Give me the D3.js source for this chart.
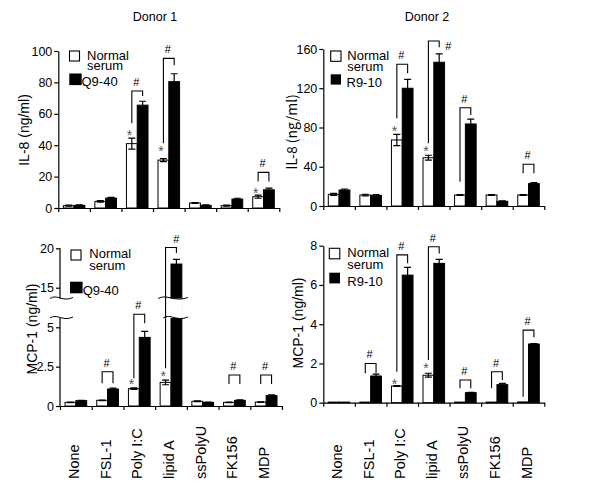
<!DOCTYPE html>
<html><head><meta charset="utf-8">
<script src="https://cdn.jsdelivr.net/npm/d3@7"></script>
<style>
body{margin:0;background:#fff}
svg{display:block}
text{font-family:"Liberation Sans",Arial,Helvetica,sans-serif;fill:#000}
</style>
</head><body>
<svg id="c" width="600" height="493"></svg>
<script>
// ---------------- DATA ----------------
const categories = ["None","FSL-1","Poly I:C","lipid A","ssPolyU","FK156","MDP"];

// IL-8 Donor 1
const il8D1Normal    = [1.5, 4.2, 41, 30.5, 3.2, 1.5, 7.2];
const il8D1NormalErr = [0.3, 0.5, 3.5, 1, 0.3, 0.3, 1];
const il8D1Q940      = [1.7, 6.3, 65.5, 80.5, 1.7, 5.7, 11.6];
const il8D1Q940Err   = [0.3, 0.5, 2.5, 5, 0.3, 0.5, 1];

// IL-8 Donor 2
const il8D2Normal    = [11.9, 11.2, 67.3, 49.2, 11.2, 11.2, 11.2];
const il8D2NormalErr = [1, 0.8, 5.7, 2.5, 0.5, 0.5, 0.5];
const il8D2R910      = [16.3, 10.8, 120, 146.5, 83.6, 4.8, 22.8];
const il8D2R910Err   = [1, 0.8, 9, 8.5, 5, 0.5, 1];

// MCP-1 Donor 1
const mcpD1Normal    = [0.23, 0.36, 1.1, 1.5, 0.3, 0.23, 0.25];
const mcpD1NormalErr = [0.02, 0.02, 0.05, 0.15, 0.02, 0.02, 0.02];
const mcpD1Q940      = [0.34, 1.08, 4.36, 18, 0.23, 0.36, 0.66];
const mcpD1Q940Err   = [0.02, 0.05, 0.38, 0.6, 0.02, 0.03, 0.05];

// MCP-1 Donor 2
const mcpD2Normal    = [0.03, 0.03, 0.85, 1.4, 0.03, 0.03, 0.04];
const mcpD2NormalErr = [0, 0, 0.02, 0.1, 0, 0, 0];
const mcpD2R910      = [0.03, 1.36, 6.5, 7.1, 0.51, 0.92, 2.99];
const mcpD2R910Err   = [0, 0.1, 0.4, 0.2, 0.02, 0.06, 0.02];

// y tick labels
const il8D1Ticks = [0, 20, 40, 60, 80, 100];
const il8D2Ticks = [0, 40, 80, 120, 160];
const mcpD1Ticks = [0, 2.5, 5, 15, 20];
const mcpD2Ticks = [0, 2, 4, 6, 8];

// significance brackets: [group, top, left-leg end, right-leg end, "#" placement]
const il8D1Brackets = [[2, 74.5, 54, 71.3, "mid"], [3, 95.3, 41.2, 91, "mid"], [6, 22.7, 16.8, 16.8, "mid"]];
const il8D2Brackets = [[2, 144.4, 89.4, 135.3, "mid"], [3, 168.2, 63.9, 161.8, "side"], [4, 100.2, 24.8, 92.8, "mid"], [6, 42.5, 33.3, 33.3, "mid"]];
const mcpD1Brackets = [[1, 2.18, 1.44, 1.44, "mid"], [2, 8.28, 1.76, 6.0, "mid"], [3, 20.1, 2.4, 19.4, "rightTop"], [5, 1.97, 1.4, 1.4, "mid"], [6, 1.97, 1.4, 1.4, "mid"]];
const mcpD2Brackets = [[1, 2.0, 1.5, 1.5, "mid"], [2, 7.53, 1.58, 7.1, "mid"], [3, 7.95, 2.18, 7.6, "mid"], [4, 1.16, 0.73, 0.73, "mid"], [5, 1.58, 0.73, 1.16, "mid"], [6, 3.7, 0.3, 3.33, "mid"]];

// asterisks: [group, level]
const il8D1Stars = [[2, 48.6], [3, 38], [6, 11.5]];
const il8D2Stars = [[2, 79.2], [3, 58.8]];
const mcpD1Stars = [[2, 1.59], [3, 2.08]];
const mcpD2Stars = [[2, 1.1], [3, 1.92]];

// ---------------- DRAWING ----------------
const svg = d3.select("#c");
const FONT_TICK = 12.5;

function panel(cfg) {
  const g = svg.append("g");
  const xg = d3.scaleBand().domain(categories).range(cfg.xr);
  const bw = xg.bandwidth();
  const xs = d3.scaleBand().domain(["n", "t"]).range([5, bw - 5]);
  const barW = xs.bandwidth();
  const y = d3.scaleLinear().domain(cfg.yDomain).range(cfg.yRange);
  const y0 = y(0);

  const series = [
    {k: "n", v: cfg.normal, e: cfg.normalErr, fill: "#fff"},
    {k: "t", v: cfg.treated, e: cfg.treatedErr, fill: "#000"}
  ];

  // bars
  series.forEach(s => {
    g.selectAll(null).data(categories).enter().append("rect")
      .attr("x", c => xg(c) + xs(s.k))
      .attr("y", (c, i) => y(s.v[i]))
      .attr("width", barW)
      .attr("height", (c, i) => y0 - y(s.v[i]))
      .attr("fill", s.fill).attr("stroke", "#000").attr("stroke-width", 1);
  });
  // error bars
  series.forEach(s => {
    categories.forEach((c, i) => {
      const e = s.e[i];
      if (!e) return;
      const cx = xg(c) + xs(s.k) + barW / 2;
      const yt = y(s.v[i] + e), yb = y(s.v[i] - e);
      g.append("path")
        .attr("d", `M${cx},${yb}V${yt}M${cx - 3.5},${yt}H${cx + 3.5}M${cx - 3.5},${yb}H${cx + 3.5}`)
        .attr("stroke", "#000").attr("stroke-width", 1.2).attr("fill", "none");
    });
  });

  // break (bar gap + waves)
  if (cfg.brk) {
    const b = cfg.brk;
    const c = categories[b.group];
    const bx = xg(c) + xs("t");
    g.append("rect").attr("x", bx - 1).attr("y", b.yHi).attr("width", barW + 2)
      .attr("height", b.yLo - b.yHi).attr("fill", "#fff");
    const wave = (x1, x2, yy) => {
      const w = x2 - x1;
      return `M${x1},${yy}C${x1 + w * 0.3},${yy - 5} ${x1 + w * 0.55},${yy + 4} ${x2},${yy - 1}`;
    };
    [b.yHi, b.yLo].forEach((yy, j) => {
      g.append("path").attr("d", wave(xg(c) + 3 + j * 5, xg(c) + bw + 1, yy))
        .attr("stroke", "#000").attr("fill", "none").attr("stroke-width", 1);
      g.append("path").attr("d", wave(cfg.xr[0] - 10, cfg.xr[0] + 13, yy))
        .attr("stroke", "#000").attr("fill", "none").attr("stroke-width", 1);
    });
  }

  // x axis
  const xl = d3.scaleLinear().domain([0, categories.length]).range(cfg.xr);
  const xa = g.append("g").attr("transform", `translate(0,${y0})`)
    .call(d3.axisBottom(xl).tickValues(d3.range(categories.length + 1)).tickFormat("").tickSize(4).tickSizeOuter(0));
  xa.selectAll("path,line").attr("stroke", "#000").attr("stroke-width", 1.2);

  // y axis
  const ya = g.append("g").attr("transform", `translate(${cfg.xr[0]},0)`)
    .call(d3.axisLeft(y).tickValues(cfg.ticks).tickFormat(d => String(d)).tickSize(4).tickSizeOuter(0));
  ya.selectAll("line").attr("stroke", "#000").attr("stroke-width", 1.2);
  ya.selectAll("text").attr("font-size", FONT_TICK).attr("x", -6)
    .style("font-family", '"Liberation Sans",Arial,sans-serif').attr("fill", "#000");
  if (cfg.brk) {
    ya.select(".domain").remove();
    const top = y(cfg.yDomain[cfg.yDomain.length - 1]);
    g.append("path").attr("d", `M${cfg.xr[0]},${y0}V${cfg.brk.yLo}M${cfg.xr[0]},${cfg.brk.yHi}V${top}`)
      .attr("stroke", "#000").attr("stroke-width", 1.2);
  } else {
    ya.select(".domain").attr("stroke", "#000").attr("stroke-width", 1.2);
  }

  // brackets
  cfg.brackets.forEach(([gi, top, lb, rb, pos]) => {
    const c = categories[gi];
    const xL = xg(c) + xs("n") + barW / 2;
    const xR = xg(c) + xs("t") + barW / 2;
    g.append("path").attr("d", `M${xL},${y(lb)}V${y(top)}H${xR}V${y(rb)}`)
      .attr("stroke", "#000").attr("fill", "none").attr("stroke-width", 1.1);
    let hx = (xL + xR) / 2 - 1, hy = y(top) - 5;
    if (pos === "side") { hx = xR + 9; hy = y(top) + 9; }
    if (pos === "rightTop") { hx = xR; hy = y(top) - 5; }
    g.append("text").attr("x", hx).attr("y", hy).attr("text-anchor", "middle")
      .attr("font-size", 11).text("#");
  });

  // asterisks
  cfg.stars.forEach(([gi, lv]) => {
    const c = categories[gi];
    g.append("text").attr("x", xg(c) + xs("n") + 3).attr("y", y(lv) + 8)
      .attr("text-anchor", "middle").attr("font-size", 14).style("fill", "#555").text("*");
  });

  // legend
  const L = cfg.legend;
  g.append("rect").attr("x", L.wx).attr("y", L.wy).attr("width", L.ws).attr("height", L.ws)
    .attr("fill", "#fff").attr("stroke", "#000").attr("stroke-width", 1.1);
  g.append("rect").attr("x", L.bx).attr("y", L.by).attr("width", L.bw).attr("height", L.bh).attr("fill", "#000");
  g.append("text").attr("x", L.tx).attr("y", L.ty1).attr("font-size", 13).text("Normal");
  g.append("text").attr("x", L.tx).attr("y", L.ty2).attr("font-size", 13).text("serum");
  g.append("text").attr("x", L.sx).attr("y", L.ty3).attr("font-size", 13).text(cfg.seriesName);

  // y title
  g.append("text").attr("transform", `translate(${cfg.yt[0]},${cfg.yt[1]}) rotate(-90)`)
    .attr("text-anchor", "middle").attr("font-size", 14)
    .style("font-family", cfg.ytFont || '"Liberation Sans",Arial,sans-serif')
    .text(cfg.ytitle);

  // x labels
  if (cfg.xlabels) {
    g.selectAll(null).data(categories).enter().append("text")
      .attr("transform", c => `translate(${xg(c) + bw / 2 + 3},479) rotate(-90)`)
      .attr("text-anchor", "start").attr("font-size", 14.5).text(c => c);
  }
}

// titles
svg.append("text").attr("x", 155).attr("y", 21).attr("text-anchor", "middle").attr("font-size", 12.5).text("Donor 1");
svg.append("text").attr("x", 427).attr("y", 21).attr("text-anchor", "middle").attr("font-size", 12.5).text("Donor 2");

panel({
  xr: [58.3, 279.3], yDomain: [0, 100], yRange: [208, 51], ticks: il8D1Ticks,
  normal: il8D1Normal, normalErr: il8D1NormalErr, treated: il8D1Q940, treatedErr: il8D1Q940Err,
  brackets: il8D1Brackets, stars: il8D1Stars, seriesName: "Q9-40",
  legend: {wx: 69.5, wy: 51, ws: 10, bx: 69.3, by: 73.5, bw: 12.4, bh: 11.6, tx: 87, ty1: 59.5, ty2: 70, sx: 81.5, ty3: 86},
  ytitle: "IL-8 (ng/ml)", yt: [29, 130]
});
panel({
  xr: [323.3, 544.3], yDomain: [0, 160], yRange: [206, 49], ticks: il8D2Ticks,
  normal: il8D2Normal, normalErr: il8D2NormalErr, treated: il8D2R910, treatedErr: il8D2R910Err,
  brackets: il8D2Brackets, stars: il8D2Stars, seriesName: "R9-10",
  legend: {wx: 330.7, wy: 51, ws: 10.3, bx: 330.7, by: 74.3, bw: 10.3, bh: 10.3, tx: 347.3, ty1: 59.5, ty2: 70.7, sx: 346.5, ty3: 86.7},
  ytitle: "IL-8 (ng/ml)", yt: [297, 132], ytFont: '"Noto Sans CJK JP",sans-serif'
});
panel({
  xr: [60, 282], yDomain: [0, 5, 15, 20], yRange: [406, 327.3, 287.7, 248.3], ticks: mcpD1Ticks,
  normal: mcpD1Normal, normalErr: mcpD1NormalErr, treated: mcpD1Q940, treatedErr: mcpD1Q940Err,
  brackets: mcpD1Brackets, stars: mcpD1Stars, seriesName: "Q9-40",
  brk: {group: 3, yHi: 298.5, yLo: 318},
  legend: {wx: 71, wy: 250, ws: 10, bx: 70, by: 281.7, bw: 12.6, bh: 11.6, tx: 89.3, ty1: 257.5, ty2: 270, sx: 82.7, ty3: 295},
  ytitle: "MCP-1 (ng/ml)", yt: [37, 329], xlabels: true
});
panel({
  xr: [323.3, 544.3], yDomain: [0, 8], yRange: [402.7, 245.7], ticks: mcpD2Ticks,
  normal: mcpD2Normal, normalErr: mcpD2NormalErr, treated: mcpD2R910, treatedErr: mcpD2R910Err,
  brackets: mcpD2Brackets, stars: mcpD2Stars, seriesName: "R9-10",
  legend: {wx: 329.3, wy: 248.3, ws: 10.5, bx: 329.3, by: 272.7, bw: 10.7, bh: 10.7, tx: 347.3, ty1: 257.3, ty2: 269.3, sx: 347.3, ty3: 286},
  ytitle: "MCP-1 (ng/ml)", yt: [303, 323], xlabels: true
});
</script>
</body></html>
